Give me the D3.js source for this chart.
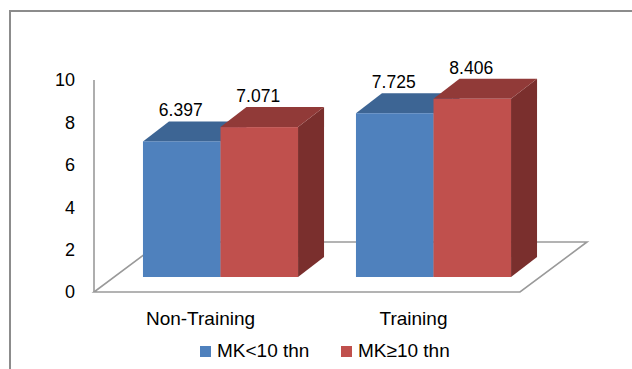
<!DOCTYPE html>
<html>
<head>
<meta charset="utf-8">
<script src="https://cdn.jsdelivr.net/npm/d3@7/dist/d3.min.js"></script>
<style>
  html, body { margin: 0; padding: 0; background: #fff; }
  svg { display: block; font-family: "Liberation Sans", Arial, sans-serif; }
</style>
</head>
<body>
<svg id="chart" width="632" height="369"></svg>
<script>
// Chart data
const categories = ["Non-Training", "Training"];
const seriesNames = ["MK<10 thn", "MK\u226510 thn"];
const seriesLess10 = [6.397, 7.725];
const seriesMore10 = [7.071, 8.406];
const tickValues = [0, 2, 4, 6, 8, 10];

const seriesValues = [seriesLess10, seriesMore10];
const palette = [
  { front: "#4F81BD", top: "#3D6594", side: "#385D8A" },
  { front: "#C0504D", top: "#913A38", side: "#7A2F2D" }
];

const svg = d3.select("#chart");

// Outer frame
svg.append("path")
  .attr("d", "M10,369 V11 H632")
  .attr("fill", "none")
  .attr("stroke", "#8C8C8C")
  .attr("stroke-width", 2);

// Oblique projection: floor front edge and depth vectors
const floorLeft = 94, floorRight = 520;
const floorDepth = { dx: 67, dy: -50 };
const barOffset = { dx: 20, dy: -15 };
const barDepth = { dx: 26, dy: -20 };

const x = d3.scaleBand().domain(categories).range([floorLeft, floorRight]).padding(0);
const groupWidth = x.bandwidth() * 0.728;
const xSub = d3.scaleBand().domain(d3.range(seriesNames.length)).range([0, groupWidth]).padding(0);
const y = d3.scaleLinear().domain([0, 10]).range([292, 80]);

// Floor
const y0 = y(0);
svg.append("path")
  .attr("d", `M${floorLeft},${y0} L${floorRight},${y0} L${floorRight + floorDepth.dx},${y0 + floorDepth.dy} L${floorLeft + floorDepth.dx},${y0 + floorDepth.dy} Z`)
  .attr("fill", "#fff")
  .attr("stroke", "#9A9A9A")
  .attr("stroke-width", 1.6);

// Value axis line
svg.append("line")
  .attr("x1", floorLeft).attr("x2", floorLeft)
  .attr("y1", y(10)).attr("y2", y0)
  .attr("stroke", "#9A9A9A")
  .attr("stroke-width", 1.6);

// Tick labels
svg.append("g").selectAll("text")
  .data(tickValues)
  .join("text")
  .attr("x", 75)
  .attr("y", d => y(d))
  .attr("dy", "0.35em")
  .attr("text-anchor", "end")
  .attr("font-size", 18)
  .attr("fill", "#000")
  .text(d => d);

// Bars (drawn left to right so nearer faces overlap correctly)
const bars = [];
categories.forEach((c, ci) => {
  seriesValues.forEach((vals, si) => {
    bars.push({ cat: c, ci, si, value: vals[ci] });
  });
});

const barG = svg.append("g");
bars.forEach(b => {
  const groupStart = x(b.cat) + (x.bandwidth() - groupWidth) / 2;
  const xl = groupStart + xSub(b.si) + barOffset.dx;
  const xr = xl + xSub.bandwidth();
  const yb = y(0) + barOffset.dy;
  const yt = y(b.value) + barOffset.dy;
  const c = palette[b.si];
  const dx = barDepth.dx, dy = barDepth.dy;
  // side face
  barG.append("path")
    .attr("d", `M${xr},${yb} L${xr + dx},${yb + dy} L${xr + dx},${yt + dy} L${xr},${yt} Z`)
    .attr("fill", c.side);
  // top face
  barG.append("path")
    .attr("d", `M${xl},${yt} L${xl + dx},${yt + dy} L${xr + dx},${yt + dy} L${xr},${yt} Z`)
    .attr("fill", c.top);
  // front face
  barG.append("rect")
    .attr("x", xl).attr("y", yt)
    .attr("width", xr - xl).attr("height", yb - yt)
    .attr("fill", c.front);
  // value label
  barG.append("text")
    .attr("x", (xl + xr) / 2 - 1)
    .attr("y", yt + dy - 5)
    .attr("text-anchor", "middle")
    .attr("font-size", 17.5)
    .attr("fill", "#000")
    .text(b.value.toFixed(3));
});

// Category labels
svg.append("g").selectAll("text")
  .data(categories)
  .join("text")
  .attr("x", d => x(d) + x.bandwidth() / 2)
  .attr("y", 325)
  .attr("text-anchor", "middle")
  .attr("font-size", 19)
  .attr("fill", "#000")
  .text(d => d);

// Legend
const legendX = [200, 341];
const legend = svg.append("g").selectAll("g")
  .data(seriesNames)
  .join("g")
  .attr("transform", (d, i) => `translate(${legendX[i]},346)`);
legend.append("rect")
  .attr("width", 11).attr("height", 11)
  .attr("fill", (d, i) => palette[i].front);
legend.append("text")
  .attr("x", 17).attr("y", 10.5)
  .attr("font-size", 19)
  .attr("fill", "#000")
  .text(d => d);
</script>
</body>
</html>
